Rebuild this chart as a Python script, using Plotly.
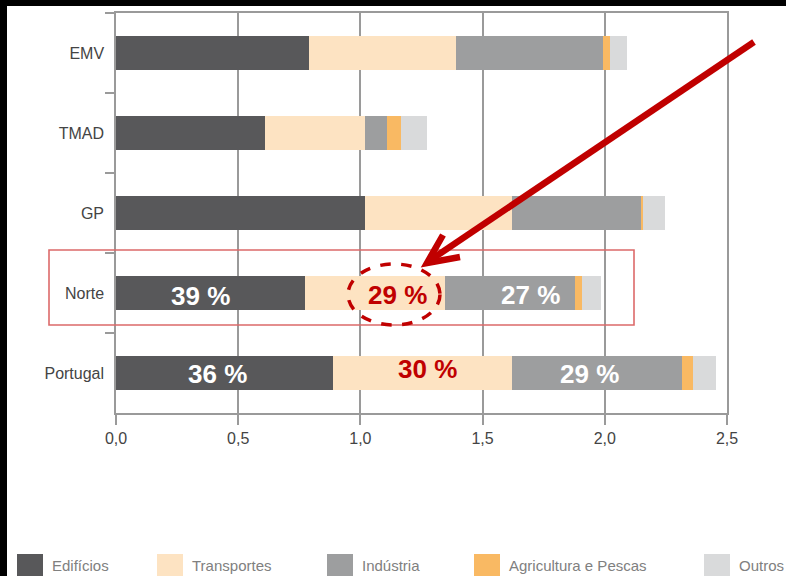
import plotly.graph_objects as go

# ---------------- data ----------------
categories = ["EMV", "TMAD", "GP", "Norte", "Portugal"]
series_names = ["Edifícios", "Transportes", "Indústria", "Agricultura e Pescas", "Outros"]
edificios = [0.79, 0.61, 1.02, 0.774, 0.889]
transportes = [0.60, 0.41, 0.60, 0.571, 0.731]
industria = [0.604, 0.09, 0.53, 0.533, 0.696]
agricultura = [0.027, 0.055, 0.007, 0.027, 0.044]
outros = [0.071, 0.108, 0.09, 0.079, 0.095]
series_values = [edificios, transportes, industria, agricultura, outros]
series_colors = ["#58585a", "#fde3c2", "#9d9e9f", "#f9b963", "#d9dadb"]

tick_vals = [0, 0.5, 1.0, 1.5, 2.0, 2.5]
tick_text = ["0,0", "0,5", "1,0", "1,5", "2,0", "2,5"]

# percentage labels: (category, series index, text, colour)
label_cats = ["Norte", "Norte", "Norte", "Portugal", "Portugal", "Portugal"]
label_series = [0, 1, 2, 0, 1, 2]
label_texts = ["39 %", "29 %", "27 %", "36 %", "30 %", "29 %"]
label_colors = ["white", "#c00000", "white", "white", "#c00000", "white"]

# ---------------- geometry helpers (pixels -> paper) ----------------
W, H = 786, 576
L, R, T, B = 116, 727, 13, 413
def px(x):
    return (x - L) / (R - L)
def py(y):
    return (B - y) / (B - T)

FONT = "Arial, Liberation Sans, sans-serif"
GRID = "#9a9a9a"

fig = go.Figure()
for name, vals, col in zip(series_names, series_values, series_colors):
    fig.add_trace(go.Bar(
        y=categories, x=vals, name=name, orientation="h",
        marker=dict(color=col, line=dict(width=0)),
        showlegend=False, hoverinfo="x+name"))

fig.update_layout(
    width=W, height=H, autosize=False,
    margin=dict(l=L, r=W - R, t=T, b=H - B, pad=0),
    paper_bgcolor="white", plot_bgcolor="white",
    barmode="stack", bargap=0.585,
    font=dict(family=FONT, size=16, color="#3c3c3c"),
)
fig.update_xaxes(
    range=[0, 2.5], tickvals=tick_vals, ticktext=tick_text,
    showgrid=True, gridcolor=GRID, gridwidth=1.5,
    showline=True, linecolor=GRID, linewidth=1.5, mirror=True,
    ticks="outside", ticklen=10, tickcolor=GRID, tickwidth=1.5,
    zeroline=False, tickfont=dict(size=16, color="#444444"),
)
fig.update_yaxes(
    categoryorder="array", categoryarray=categories, autorange="reversed",
    showgrid=False, showline=True, linecolor=GRID, linewidth=1.5, mirror=True,
    ticks="outside", tickson="boundaries", ticklen=9, tickcolor=GRID, tickwidth=1.5,
    ticklabelstandoff=7,
    tickfont=dict(size=16, color="#444444"),
)

# ---------------- percentage labels ----------------
xshifts = [-10, 23, 21, -7, 5, -7]
yshifts = [-3, -2, -2, -1, 4, -1]
for cat, si, txt, col, xs, ys in zip(label_cats, label_series, label_texts, label_colors, xshifts, yshifts):
    ci = categories.index(cat)
    start = sum(series_values[k][ci] for k in range(si))
    mid = start + series_values[si][ci] / 2
    fig.add_annotation(x=mid, y=cat, xref="x", yref="y", text="<b>%s</b>" % txt,
                       showarrow=False, xshift=xs, yshift=ys,
                       font=dict(family=FONT, size=26, color=col))

shapes = []
# black border strips (top and left)
shapes.append(dict(type="path", xref="paper", yref="paper",
                   path="M %f,%f L %f,%f L %f,%f L %f,%f Z" % (px(-2), py(6), px(W + 2), py(6),
                                                              px(W + 2), py(0), px(-2), py(0)),
                   fillcolor="black", line=dict(width=0), layer="above"))
shapes.append(dict(type="rect", xref="paper", yref="paper", x0=px(-5), x1=px(7), y0=py(H + 5), y1=py(0),
                   fillcolor="black", line=dict(width=0), layer="above"))
# red highlight rectangle around "Norte"
shapes.append(dict(type="rect", xref="paper", yref="paper", x0=px(49), x1=px(634), y0=py(325), y1=py(250),
                   line=dict(color="#dc6a6a", width=1.6), fillcolor="rgba(0,0,0,0)", layer="above"))
# dashed ellipse
shapes.append(dict(type="circle", xref="paper", yref="paper", x0=px(348), x1=px(440), y0=py(325), y1=py(264),
                   line=dict(color="#c00000", width=3.5, dash="dash"), layer="above"))
# arrow shaft and head
def path(points):
    return "M " + " L ".join("%f,%f" % (px(a), py(b)) for a, b in points)
shapes.append(dict(type="path", xref="paper", yref="paper", path=path([(754, 42), (429, 261)]),
                   line=dict(color="#c00000", width=6.5), layer="above"))
shapes.append(dict(type="path", xref="paper", yref="paper", path=path([(443, 235), (427, 263), (460, 257)]),
                   line=dict(color="#c00000", width=6.5), layer="above"))

# custom legend (large swatches)
legend_text_x = [50, 190, 360, 507, 737]
for name, col, tx in zip(series_names, series_colors, legend_text_x):
    shapes.append(dict(type="rect", xref="paper", yref="paper", x0=px(tx - 33), x1=px(tx - 7),
                       y0=py(H + 2), y1=py(554), fillcolor=col, line=dict(width=0), layer="above"))
    fig.add_annotation(x=px(tx), y=py(565), xref="paper", yref="paper", text=name,
                       showarrow=False, xanchor="left", yanchor="middle",
                       font=dict(family=FONT, size=15, color="#808080"))

fig.update_layout(shapes=shapes)
fig.write_html("out.html", config={"displayModeBar": False},
               post_script="document.body.style.margin='0';document.body.style.overflow='hidden';")
